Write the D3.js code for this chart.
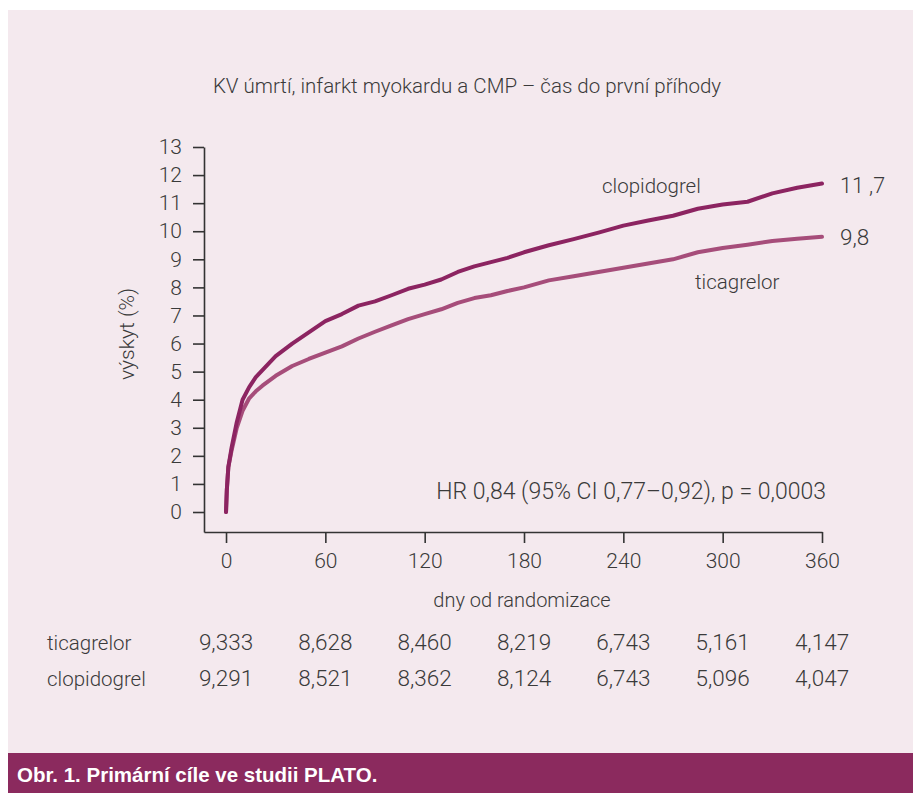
<!DOCTYPE html>
<html lang="cs">
<head>
<meta charset="UTF-8">
<title>PLATO</title>
<script src="https://d3js.org/d3.v7.min.js"></script>
<style>
    body { margin: 0; background: #fff; }
    text { font-family: Roboto, "Liberation Sans", sans-serif; fill: #3a3a3a; }
    .axis path, .axis line { stroke: #333; stroke-width: 1.6; }
    .axis text { font-size: 21px; font-weight: 300; fill: #3a3a3a; }
</style>
</head>
<body>
<svg width="913" height="793"></svg>
<script>
    // data
    var days = [0, 0.5, 1.4, 3.4, 6.5, 10, 14, 18, 22, 30, 40, 50, 60, 70, 80, 90, 100, 110, 120,
        130, 140, 150, 160, 170, 180, 195, 210, 225, 240, 255, 270, 285, 300, 315, 330, 345, 360];
    var clopidogrel = [0, 0.8, 1.6, 2.3, 3.2, 4.0, 4.45, 4.8, 5.05, 5.55, 6.0, 6.4, 6.8, 7.05, 7.35, 7.5, 7.72, 7.95, 8.1,
        8.28, 8.55, 8.75, 8.9, 9.05, 9.25, 9.5, 9.72, 9.95, 10.2, 10.38, 10.55, 10.8, 10.95, 11.05, 11.35, 11.55, 11.7];
    var ticagrelor = [0, 0.8, 1.6, 2.2, 3.0, 3.6, 4.05, 4.3, 4.5, 4.85, 5.2, 5.45, 5.68, 5.9, 6.18, 6.42, 6.65, 6.87, 7.05,
        7.22, 7.45, 7.62, 7.72, 7.87, 8.0, 8.25, 8.4, 8.55, 8.7, 8.85, 9.0, 9.25, 9.4, 9.52, 9.65, 9.73, 9.8];

    var xTicks = [0, 60, 120, 180, 240, 300, 360];
    var yTicks = d3.range(0, 14);

    var atRiskTica = ["9,333", "8,628", "8,460", "8,219", "6,743", "5,161", "4,147"];
    var atRiskClop = ["9,291", "8,521", "8,362", "8,124", "6,743", "5,096", "4,047"];

    var svg = d3.select("svg");

    // background panel + footer
    svg.append("rect").attr("x", 8).attr("y", 10).attr("width", 905).attr("height", 743).attr("fill", "#f4e9ee");
    svg.append("rect").attr("x", 8).attr("y", 753).attr("width", 905).attr("height", 40).attr("fill", "#8b2a5e");
    svg.append("text").attr("x", 17).attr("y", 782)
        .style("font-family", "'Liberation Sans', Arial, sans-serif")
        .style("font-weight", "bold").style("font-size", "20.5px").style("fill", "#fff")
        .text("Obr. 1. Primární cíle ve studii PLATO.");

    var xScale = d3.scaleLinear().domain([-13.3, 360]).range([204, 822]);
    var yScale = d3.scaleLinear().domain([-0.712, 13]).range([532, 147]);

    svg.append("text").attr("x", 467).attr("y", 93).attr("text-anchor", "middle")
        .style("font-size", "20.5px").style("font-weight", 300)
        .text("KV úmrtí, infarkt myokardu a CMP – čas do první příhody");

    // axes
    svg.append("g").attr("class", "axis")
        .attr("transform", "translate(0,532)")
        .call(d3.axisBottom(xScale).tickValues(xTicks).tickSize(11).tickSizeOuter(0).tickPadding(10));

    svg.append("g").attr("class", "axis")
        .attr("transform", "translate(204,0)")
        .call(d3.axisLeft(yScale).tickValues(yTicks).tickSize(11).tickSizeOuter(0).tickPadding(11));

    svg.append("text").attr("x", 522).attr("y", 607).attr("text-anchor", "middle")
        .style("font-size", "20px").style("font-weight", 300)
        .text("dny od randomizace");

    svg.append("text").attr("transform", "translate(134,334) rotate(-90)").attr("text-anchor", "middle")
        .style("font-size", "21px").style("font-weight", 300)
        .text("výskyt (%)");

    // curves
    var line = d3.line()
        .x(function (d, i) { return xScale(days[i]); })
        .y(function (d) { return yScale(d); });

    svg.append("path").datum(ticagrelor)
        .attr("fill", "none").attr("stroke", "#a64d7a").attr("stroke-width", 4)
        .attr("stroke-linejoin", "round").attr("stroke-linecap", "round")
        .attr("d", line);

    svg.append("path").datum(clopidogrel)
        .attr("fill", "none").attr("stroke", "#8c2461").attr("stroke-width", 4)
        .attr("stroke-linejoin", "round").attr("stroke-linecap", "round")
        .attr("d", line);

    // labels on the curves
    var lbl = function (x, y, t, size, anchor) {
        svg.append("text").attr("x", x).attr("y", y).attr("text-anchor", anchor || "start")
            .style("font-size", size + "px").style("font-weight", 300).text(t);
    };
    lbl(602, 193, "clopidogrel", 20.5);
    lbl(695, 289, "ticagrelor", 20.5);
    lbl(840, yScale(11.7) + 9, "11 ,7", 21.5);
    lbl(840, yScale(9.8) + 8, "9,8", 22.5);
    lbl(826, 499, "HR 0,84 (95% CI 0,77–0,92), p = 0,0003", 23, "end");

    // numbers at risk
    var rows = [["ticagrelor", atRiskTica, 650], ["clopidogrel", atRiskClop, 686]];
    rows.forEach(function (r) {
        lbl(47, r[2], r[0], 20.5);
        svg.selectAll(null).data(r[1]).enter().append("text")
            .attr("x", function (d, i) { return xScale(xTicks[i]); })
            .attr("y", r[2]).attr("text-anchor", "middle")
            .style("font-size", "22.5px").style("font-weight", 300)
            .text(function (d) { return d; });
    });
</script>
</body>
</html>
